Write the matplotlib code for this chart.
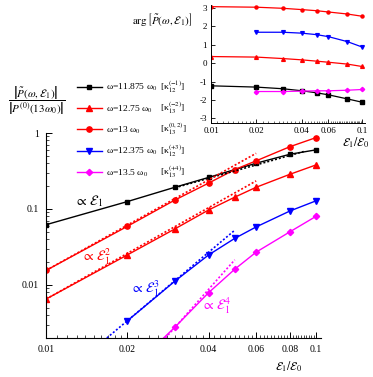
import matplotlib
matplotlib.use("Agg")
import matplotlib.pyplot as plt
from matplotlib.lines import Line2D
import numpy as np

plt.rcParams['font.family'] = ['Liberation Serif', 'DejaVu Serif']
plt.rcParams['mathtext.fontset'] = 'stix'
plt.rcParams['axes.unicode_minus'] = False

# ---------------- data ----------------
field = [0.01, 0.02, 0.03, 0.04, 0.05, 0.06, 0.08, 0.1]
field_b = [0.02, 0.03, 0.04, 0.05, 0.06, 0.08, 0.1]

amp_11875 = [0.062, 0.125, 0.193, 0.26, 0.33, 0.40, 0.525, 0.60]
amp_1275 = [0.0065, 0.0248, 0.0546, 0.097, 0.143, 0.193, 0.286, 0.38]
amp_13 = [0.0155, 0.059, 0.131, 0.219, 0.33, 0.43, 0.66, 0.87]
amp_12375 = [0.00336, 0.0112, 0.0248, 0.041, 0.058, 0.094, 0.128]
amp_135 = [0.0007, 0.00277, 0.0079, 0.0161, 0.027, 0.050, 0.080]

phase_11875 = [-1.23, -1.30, -1.39, -1.50, -1.61, -1.72, -1.94, -2.12]
phase_1275 = [0.36, 0.33, 0.25, 0.18, 0.11, 0.05, -0.05, -0.18]
phase_13 = [3.07, 3.04, 2.98, 2.91, 2.85, 2.78, 2.67, 2.55]
phase_12375 = [1.68, 1.68, 1.63, 1.55, 1.44, 1.17, 0.88]
phase_135 = [-1.54, -1.54, -1.52, -1.50, -1.50, -1.47, -1.43]

# power-law guide lines (end points)
fit1_x, fit1_y = [0.03, 0.09], [0.19, 0.57]
fit2a_x, fit2a_y = [0.01, 0.06], [0.0155, 0.54]
fit2b_x, fit2b_y = [0.01, 0.06], [0.0065, 0.234]
fit3_x, fit3_y = [0.0168, 0.05], [0.002, 0.0525]
fit4_x, fit4_y = [0.0277, 0.05], [0.002, 0.0214]

labels = [r"ω=11.875 ω$_0$", r"ω=12.75 ω$_0$", r"ω=13 ω$_0$",
          r"ω=12.375 ω$_0$", r"ω=13.5 ω$_0$"]
brackets = [r"[κ$_{12}^{(-1)}$]", r"[κ$_{13}^{(-2)}$]", r"[κ$_{13}^{(0,2)}$]",
            r"[κ$_{12}^{(+3)}$]", r"[κ$_{13}^{(+4)}$]"]
main_xticks = [0.01, 0.02, 0.04, 0.06, 0.08, 0.1]
main_xticklabels = ["0.01", "0.02", "0.04", "0.06", "0.08", "0.1"]
main_yticks = [0.01, 0.1, 1]
main_yticklabels = ["0.01", "0.1", "1"]
ins_xticks = [0.01, 0.02, 0.04, 0.06, 0.1]
ins_xticklabels = ["0.01", "0.02", "0.04", "0.06", "0.1"]
ins_yticks = [-3, -2, -1, 0, 1, 2, 3]

W, H = 373, 377
def fx(x):
    return x / W
def fy(y):
    return 1 - y / H

fig = plt.figure(figsize=(3.73, 3.77), dpi=100)

ax = fig.add_axes([fx(46), fy(338), (321 - 46) / W, (338 - 133) / H])
ax.set_xscale('log')
ax.set_yscale('log')
ax.set_xlim(0.01, 0.1043)
ax.set_ylim(0.002, 1.0)

BLK, RED, BLU, MAG = '#000000', '#ff0000', '#0000ff', '#ff00ff'
lw = 1.0
ax.plot(field, amp_11875, color=BLK, marker='s', ms=3.2, lw=lw)
ax.plot(field, amp_1275, color=RED, marker='^', ms=4.0, lw=lw)
ax.plot(field, amp_13, color=RED, marker='o', ms=3.8, lw=lw)
ax.plot(field_b, amp_12375, color=BLU, marker='v', ms=4.0, lw=lw)
ax.plot(field_b, amp_135, color=MAG, marker='D', ms=3.2, lw=lw)

dot = (0, (1.2, 1.2))
ax.plot(fit1_x, fit1_y, color=BLK, ls=dot, lw=1.2)
ax.plot(fit2a_x, fit2a_y, color=RED, ls=dot, lw=1.2)
ax.plot(fit2b_x, fit2b_y, color=RED, ls=dot, lw=1.2)
ax.plot(fit3_x, fit3_y, color=BLU, ls=dot, lw=1.2)
ax.plot(fit4_x, fit4_y, color=MAG, ls=dot, lw=1.2)

for s in ['top', 'right']:
    ax.spines[s].set_visible(False)
for s in ['left', 'bottom']:
    ax.spines[s].set_linewidth(0.8)

ax.set_xticks(main_xticks)
ax.set_xticklabels(main_xticklabels)
minor_x = list(np.arange(0.011, 0.0195, 0.001)) + [v for v in np.arange(0.022, 0.0995, 0.002) if not any(abs(v - t) < 1e-6 for t in main_xticks)]
ax.set_xticks(minor_x, minor=True)
ax.set_yticks(main_yticks)
ax.set_yticklabels(main_yticklabels)
ax.yaxis.set_minor_locator(matplotlib.ticker.LogLocator(base=10, subs=np.arange(2, 10)))
ax.yaxis.set_minor_formatter(matplotlib.ticker.NullFormatter())
ax.xaxis.set_minor_formatter(matplotlib.ticker.NullFormatter())
ax.tick_params(which='major', direction='in', length=4, width=0.7, labelsize=7, pad=5)
ax.tick_params(which='minor', direction='in', length=2, width=0.5)

# annotations
ax.text(fx(88), fy(201), r"$\propto\,\mathcal{E}_1$", transform=fig.transFigure,
        ha='center', va='center', fontsize=10, color=BLK)
ax.text(fx(96), fy(257), r"$\propto\,\mathcal{E}_1^2$", transform=fig.transFigure,
        ha='center', va='center', fontsize=10, color=RED)
ax.text(fx(145), fy(289), r"$\propto\,\mathcal{E}_1^3$", transform=fig.transFigure,
        ha='center', va='center', fontsize=10, color=BLU)
ax.text(fx(216), fy(306), r"$\propto\,\mathcal{E}_1^4$", transform=fig.transFigure,
        ha='center', va='center', fontsize=10, color=MAG)

fig.text(fx(289), fy(367), r"$\mathcal{E}_1/\mathcal{E}_0$", ha='center', va='center', fontsize=8.5)
fig.text(fx(37), fy(101), r"$\dfrac{\left|\tilde{P}(\omega,\mathcal{E}_1)\right|}{\left|P^{(0)}(13\omega_0)\right|}$",
         ha='center', va='center', fontsize=8)

# legend
handles = [
    Line2D([], [], color=BLK, marker='s', ms=3.2, lw=lw),
    Line2D([], [], color=RED, marker='^', ms=4.0, lw=lw),
    Line2D([], [], color=RED, marker='o', ms=3.8, lw=lw),
    Line2D([], [], color=BLU, marker='v', ms=4.0, lw=lw),
    Line2D([], [], color=MAG, marker='D', ms=3.2, lw=lw),
]
leg = ax.legend(handles, labels, loc='upper left', bbox_to_anchor=(fx(77), fy(82)),
                bbox_transform=fig.transFigure, frameon=False, fontsize=6.8,
                handlelength=2.6, handletextpad=0.45, labelspacing=1.08,
                borderpad=0, borderaxespad=0)

# inset
ins = fig.add_axes([fx(211), fy(123), (365 - 211) / W, (123 - 5) / H])
ins.set_xscale('log')
ins.set_xlim(0.01, 0.1047)
ins.set_ylim(-3.25, 3.16)
ms_i = 2.2
ins.plot(field, phase_13, color=RED, marker='o', ms=ms_i, lw=0.9)
ins.plot(field_b, phase_12375, color=BLU, marker='v', ms=ms_i + 0.5, lw=0.9)
ins.plot(field, phase_1275, color=RED, marker='^', ms=ms_i + 0.5, lw=0.9)
ins.plot(field, phase_11875, color=BLK, marker='s', ms=ms_i, lw=0.9)
ins.plot(field_b, phase_135, color=MAG, marker='D', ms=ms_i, lw=0.9)
for s in ['top', 'right']:
    ins.spines[s].set_visible(False)
for s in ['left', 'bottom']:
    ins.spines[s].set_linewidth(0.7)
ins.set_xticks(ins_xticks)
ins.set_xticklabels(ins_xticklabels)
ins_minor = list(np.arange(0.011, 0.0195, 0.001)) + [v for v in np.arange(0.022, 0.0995, 0.002) if not any(abs(v - t) < 1e-6 for t in ins_xticks)]
ins.set_xticks(ins_minor, minor=True)
ins.xaxis.set_minor_formatter(matplotlib.ticker.NullFormatter())
ins.set_yticks(ins_yticks)
ins.set_yticklabels([str(v) for v in ins_yticks])
ins.tick_params(which='major', direction='in', length=3, width=0.6, labelsize=6.5, pad=3)
ins.tick_params(which='minor', direction='in', length=1.5, width=0.4)
fig.text(fx(162), fy(20), r"$\arg\left[\tilde{P}(\omega,\mathcal{E}_1)\right]$",
         ha='center', va='center', fontsize=8)
fig.text(fx(356), fy(143), r"$\mathcal{E}_1/\mathcal{E}_0$", ha='center', va='center', fontsize=8.5)

# bracket part of the legend labels, aligned in a column
fig.canvas.draw()
inv = fig.transFigure.inverted()
for t, b in zip(leg.get_texts(), brackets):
    p = t.get_transform().transform(t.get_position())
    yb = inv.transform(p)[1]
    fig.text(fx(160), yb, b, ha='left', va='baseline', fontsize=6.8)

fig.savefig('out.png', dpi=100)
